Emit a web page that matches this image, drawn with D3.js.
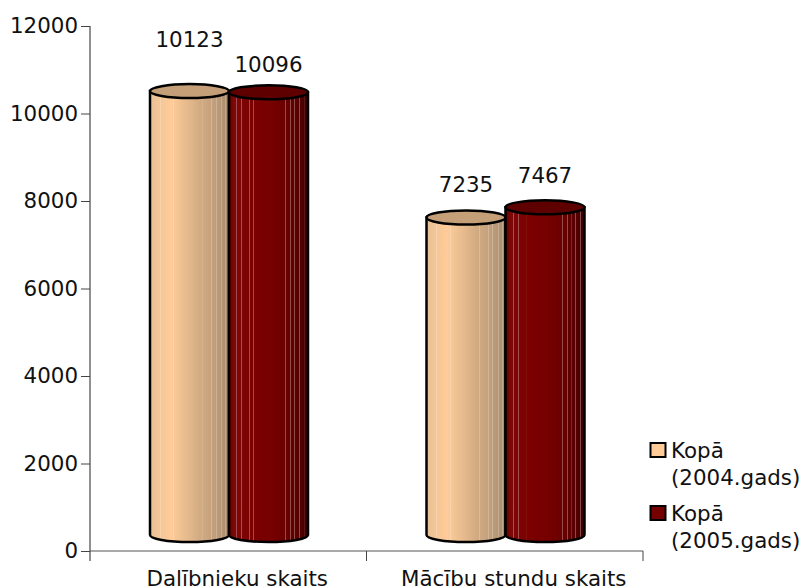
<!DOCTYPE html>
<html><head><meta charset="utf-8">
<script src="https://cdn.jsdelivr.net/npm/d3@7"></script>
<style>html,body{margin:0;background:#fff}svg{display:block}text{font-family:"DejaVu Sans",sans-serif;fill:#111}</style>
</head><body><svg id="c" width="801" height="588"></svg>
<script>
const categories = ["Dalībnieku skaits", "Mācību stundu skaits"];
const seriesNames = ["2004", "2005"];
const values2004 = [10123, 7235];
const values2005 = [10096, 7467];
const yTicks = [0, 2000, 4000, 6000, 8000, 10000, 12000];
const legendLines = [["Kopā", "(2004.gads)"], ["Kopā", "(2005.gads)"]];
const bodyStops = [
  [[0,"#e6c096"],[.1,"#f2c596"],[.26,"#ffcc99"],[.45,"#e8bc8e"],[.62,"#d4ac83"],[.8,"#c3a07c"],[1,"#a88c6e"]],
  [[0,"#5c0000"],[.06,"#7e0808"],[.3,"#7c0000"],[.55,"#760000"],[.75,"#680000"],[.9,"#540000"],[1,"#3a0000"]]
];
const stripePositions = [
  [.13,.30,.67,.78,.84,.91,.96],
  [.10,.16,.26,.31,.72,.78,.83,.89,.95]
];
const stripeAlpha = [.22, .3];
const topFill = ["#c49f78", "#5e0000"];
const legendFill = ["#ffcc99", "#760000"];

const svg = d3.select("#c");
const y = d3.scaleLinear().domain([0, 12000]).range([551, 26]);
const x0 = d3.scaleBand().domain(categories).range([90, 643]);
const x1 = d3.scaleBand().domain(seriesNames).range([60, 218]);
const baseLift = 16, topLift = 17, ry = 7, fs = 21.4;

const defs = svg.append("defs");
bodyStops.forEach((stops, i) => {
  const g = defs.append("linearGradient").attr("id", "g" + i);
  stops.forEach(s => g.append("stop").attr("offset", s[0]).attr("stop-color", s[1]));
  const st = defs.append("linearGradient").attr("id", "s" + i);
  stripePositions[i].forEach(p => {
    [[p - .006, 0], [p - .005, stripeAlpha[i]], [p + .005, stripeAlpha[i]], [p + .006, 0]].forEach(a =>
      st.append("stop").attr("offset", a[0]).attr("stop-color", "#fff").attr("stop-opacity", a[1]));
  });
});

// axes
svg.append("g").attr("transform", "translate(90,0)")
  .call(d3.axisLeft(y).tickValues(yTicks).tickSize(9).tickPadding(3).tickFormat(d3.format("d")))
  .call(g => { g.select(".domain").attr("stroke", "#222").attr("d", "M0,26V561");
    g.selectAll("line").attr("stroke", "#444");
    g.selectAll("text").attr("font-size", fs).attr("font-family", '"DejaVu Sans"').attr("fill", "#111"); });

const xAxisG = svg.append("g").attr("transform", "translate(0,551)");
xAxisG.append("line").attr("x1", 90).attr("x2", 643).attr("stroke", "#555").attr("stroke-width", 1.2);
x0.domain().forEach((c, i) => {
  xAxisG.append("line").attr("x1", x0(c) + x0.bandwidth()).attr("x2", x0(c) + x0.bandwidth())
    .attr("y1", 0).attr("y2", 10).attr("stroke", "#444");
  svg.append("text").attr("x", x0(c) + x0.bandwidth() / 2 + 9).attr("y", 586).attr("text-anchor", "middle")
    .attr("font-size", fs).text(c);
});

// cylinders
const labelGap = [[44, 25], [20, 24]];
[values2004, values2005].forEach((vals, s) => {
  vals.forEach((v, i) => {
    const l = x0(categories[i]) + x1(seriesNames[s]);
    const w = x1.bandwidth(), rx = w / 2;
    const yt = y(v) - topLift, yb = y(0) - baseLift;
    const g = svg.append("g");
    const d = `M${l},${yt}V${yb}A${rx},${ry} 0 0 0 ${l + w},${yb}V${yt}Z`;
    g.append("path").attr("fill", `url(#g${s})`).attr("d", d);
    g.append("path").attr("fill", `url(#s${s})`).attr("stroke", "#000").attr("stroke-width", 2.5).attr("d", d);
    g.append("ellipse").attr("cx", l + rx).attr("cy", yt).attr("rx", rx).attr("ry", ry)
      .attr("fill", topFill[s]).attr("stroke", "#000").attr("stroke-width", 2.5);
    svg.append("text").attr("x", l + rx).attr("y", yt - labelGap[s][i])
      .attr("text-anchor", "middle").attr("font-size", fs).text(v);
  });
});

// legend
legendLines.forEach((lines, i) => {
  const top = 442 + i * 63;
  svg.append("rect").attr("x", 650.5).attr("y", top + 1).attr("width", 15).attr("height", 14)
    .attr("fill", legendFill[i]).attr("stroke", "#000").attr("stroke-width", 2);
  lines.forEach((t, k) => svg.append("text").attr("x", 671).attr("y", top + 16 + k * 26.5).attr("font-size", fs).text(t));
});
</script></body></html>
